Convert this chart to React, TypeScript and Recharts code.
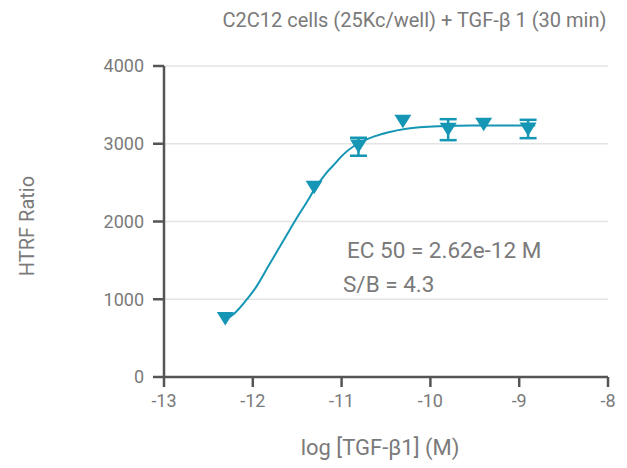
import {
  ComposedChart,
  Line,
  Scatter,
  ErrorBar,
  XAxis,
  YAxis,
  CartesianGrid,
} from "recharts";

const TEAL = "#1596b4";
const AXIS = "#555555";
const TEXT = "#7a7a7a";
const FONT = "Roboto, 'Noto Sans', sans-serif";

const xTicks = [-13, -12, -11, -10, -9, -8];
const yTicks = [0, 1000, 2000, 3000, 4000];

// measured points: log [TGF-β1] (M) vs HTRF ratio, mean and error (low / high)
const logDose = [-12.31, -11.31, -10.81, -10.31, -9.8, -9.4, -8.9];
const htrfRatio = [752, 2440, 2970, 3290, 3185, 3250, 3190];
const errLow = [null, null, 124, null, 139, null, 118];
const errHigh = [null, null, 107, null, 131, null, 118];

// fitted curve
const fitX = [-12.3, -12.21, -12.06, -11.95, -11.83, -11.72, -11.61, -11.51, -11.4, -11.29, -11.18, -11.06, -11.01, -10.82, -10.63, -10.27, -9.9, -9.52, -8.82];
const fitY = [745, 815, 1008, 1179, 1414, 1629, 1843, 2035, 2235, 2442, 2614, 2763, 2828, 3000, 3095, 3193, 3226, 3235, 3235];

const points = logDose.map((x, i) => ({
  x,
  y: htrfRatio[i],
  err: errLow[i] == null ? null : [errLow[i], errHigh[i]],
}));
const fit = fitX.map((x, i) => ({ x, y: fitY[i] }));

function Triangle(props: any) {
  const { cx, cy } = props;
  return (
    <path
      d={`M${cx - 8.5},${cy - 6.5}L${cx + 8.5},${cy - 6.5}L${cx},${cy + 7}Z`}
      fill={TEAL}
    />
  );
}

const tickStyle = { fill: TEXT, fontSize: 18, fontFamily: FONT };

export default function App() {
  return (
    <div style={{ position: "absolute", left: 0, top: 0, width: 627, height: 468, fontFamily: FONT, background: "#fff" }}>
      <ComposedChart
        width={627}
        height={468}
        margin={{ top: 66, right: 19, left: 0, bottom: 0 }}
      >
        <CartesianGrid vertical={false} stroke="#e4e4e4" strokeWidth={1.5} />
        <XAxis
          type="number"
          dataKey="x"
          domain={[-13, -8]}
          ticks={xTicks}
          height={91}
          axisLine={{ stroke: AXIS, strokeWidth: 2.5 }}
          tickLine={{ stroke: AXIS, strokeWidth: 2.5 }}
          tickSize={10}
          tickMargin={7}
          tick={tickStyle}
          allowDataOverflow
        />
        <YAxis
          type="number"
          domain={[0, 4000]}
          ticks={yTicks}
          width={164}
          axisLine={{ stroke: AXIS, strokeWidth: 2.5 }}
          tickLine={{ stroke: AXIS, strokeWidth: 2.5 }}
          tickSize={11}
          tickMargin={9}
          tick={tickStyle}
        />
        <Line
          data={fit}
          dataKey="y"
          type="monotone"
          stroke={TEAL}
          strokeWidth={2}
          dot={false}
          isAnimationActive={false}
        />
        <Scatter
          data={points}
          dataKey="y"
          fill={TEAL}
          shape={<Triangle />}
          isAnimationActive={false}
        >
          <ErrorBar dataKey="err" direction="y" width={8.5} stroke={TEAL} strokeWidth={2.5} />
        </Scatter>
      </ComposedChart>
      <div style={{ position: "absolute", left: 0, width: 627, top: 8, paddingLeft: 202, boxSizing: "border-box", textAlign: "center", fontSize: 20, color: TEXT }}>
        C2C12 cells (25Kc/well) + TGF-β 1 (30 min)
      </div>
      <div style={{ position: "absolute", left: 27, top: 226, transform: "translate(-50%, -50%) rotate(-90deg)", whiteSpace: "nowrap", fontSize: 20, color: TEXT }}>
        HTRF Ratio
      </div>
      <div style={{ position: "absolute", left: 380, top: 447, transform: "translate(-50%, -50%)", whiteSpace: "nowrap", fontSize: 22, color: TEXT }}>
        log [TGF-β1] (M)
      </div>
      <div style={{ position: "absolute", left: 347, top: 237, whiteSpace: "nowrap", fontSize: 22.5, color: TEXT, lineHeight: "26px" }}>
        EC 50 = 2.62e-12 M
      </div>
      <div style={{ position: "absolute", left: 343, top: 271, whiteSpace: "nowrap", fontSize: 22.5, color: TEXT, lineHeight: "26px" }}>
        S/B = 4.3
      </div>
    </div>
  );
}
